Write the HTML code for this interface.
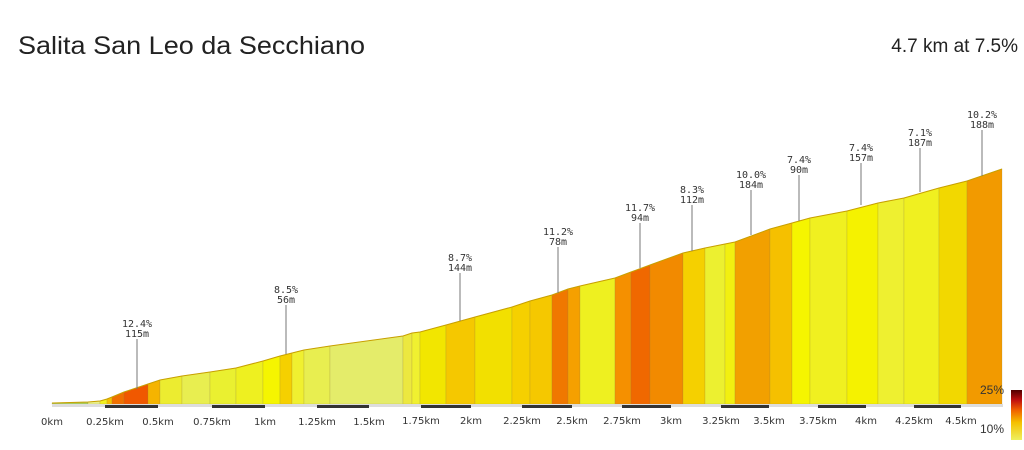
<!DOCTYPE html><html><head><style>body{margin:0;background:#fff;width:1024px;height:445px;overflow:hidden;font-family:"Liberation Sans",sans-serif}</style></head><body>
<svg width="1024" height="445" xmlns="http://www.w3.org/2000/svg">
<defs><linearGradient id="lg" x1="0" y1="1" x2="0" y2="0"><stop offset="0" stop-color="#eef060"/><stop offset="0.35" stop-color="#f5c000"/><stop offset="0.6" stop-color="#f06000"/><stop offset="0.8" stop-color="#c01010"/><stop offset="1" stop-color="#500000"/></linearGradient></defs>
<text x="18" y="54" font-size="25" fill="#222" textLength="347" lengthAdjust="spacingAndGlyphs">Salita San Leo da Secchiano</text>
<text x="1018" y="52" font-size="19" fill="#222" text-anchor="end">4.7 km at 7.5%</text>
<g stroke="rgba(150,130,60,0.35)" stroke-width="0.6">
<polygon fill="#a8d060" points="52,404 52,403 88,402 88,404"/>
<polygon fill="#e8f08a" points="88,404 88,402 100,401 100,404"/>
<polygon fill="#f2f020" points="100,404 100,401 107,399 107,404"/>
<polygon fill="#f5c000" points="107,404 107,399 112,397 112,404"/>
<polygon fill="#f07000" points="112,404 112,397 124,392 124,404"/>
<polygon fill="#f05800" points="124,404 124,392 148,384 148,404"/>
<polygon fill="#f5b400" points="148,404 148,384 160,380 160,404"/>
<polygon fill="#ecec30" points="160,404 160,380 182,376 182,404"/>
<polygon fill="#e8ee50" points="182,404 182,376 210,372 210,404"/>
<polygon fill="#eaf030" points="210,404 210,372 236,368 236,404"/>
<polygon fill="#eef020" points="236,404 236,368 263,361 263,404"/>
<polygon fill="#f5f500" points="263,404 263,361 280,356 280,404"/>
<polygon fill="#f5d000" points="280,404 280,356 292,353 292,404"/>
<polygon fill="#f0f030" points="292,404 292,353 304,350 304,404"/>
<polygon fill="#e8ee50" points="304,404 304,350 330,346 330,404"/>
<polygon fill="#e4ec6a" points="330,404 330,346 403,336 403,404"/>
<polygon fill="#ece840" points="403,404 403,336 412,333 412,404"/>
<polygon fill="#f0f030" points="412,404 412,333 420,332 420,404"/>
<polygon fill="#f2e600" points="420,404 420,332 446,325 446,404"/>
<polygon fill="#f5c800" points="446,404 446,325 475,317 475,404"/>
<polygon fill="#f2e000" points="475,404 475,317 512,307 512,404"/>
<polygon fill="#f5d000" points="512,404 512,307 530,301 530,404"/>
<polygon fill="#f5c800" points="530,404 530,301 552,295 552,404"/>
<polygon fill="#f07800" points="552,404 552,295 568,289 568,404"/>
<polygon fill="#f5a000" points="568,404 568,289 580,286 580,404"/>
<polygon fill="#eef020" points="580,404 580,286 615,278 615,404"/>
<polygon fill="#f59000" points="615,404 615,278 631,272 631,404"/>
<polygon fill="#f06800" points="631,404 631,272 650,265 650,404"/>
<polygon fill="#f28a00" points="650,404 650,265 683,253 683,404"/>
<polygon fill="#f5d000" points="683,404 683,253 705,248 705,404"/>
<polygon fill="#ecf030" points="705,404 705,248 725,244 725,404"/>
<polygon fill="#f2f010" points="725,404 725,244 735,242 735,404"/>
<polygon fill="#f2a000" points="735,404 735,242 770,229 770,404"/>
<polygon fill="#f5c000" points="770,404 770,229 792,223 792,404"/>
<polygon fill="#f5f500" points="792,404 792,223 810,218 810,404"/>
<polygon fill="#f0f020" points="810,404 810,218 847,211 847,404"/>
<polygon fill="#f5f200" points="847,404 847,211 878,203 878,404"/>
<polygon fill="#eef030" points="878,404 878,203 904,198 904,404"/>
<polygon fill="#f0f020" points="904,404 904,198 939,188 939,404"/>
<polygon fill="#f2d800" points="939,404 939,188 967,181 967,404"/>
<polygon fill="#f29a00" points="967,404 967,181 1002,169 1002,404"/>
</g>
<polyline fill="none" stroke="#c8a000" stroke-width="1" points="52,403 88,402 100,401 107,399 112,397 124,392 148,384 160,380 182,376 210,372 236,368 263,361 280,356 292,353 304,350 330,346 403,336 412,333 420,332 446,325 475,317 512,307 530,301 552,295 568,289 580,286 615,278 631,272 650,265 683,253 705,248 725,244 735,242 770,229 792,223 810,218 847,211 878,203 904,198 939,188 967,181 1002,169"/>
<rect x="52" y="404" width="951" height="3" fill="#ddd"/>
<g fill="#333"><rect x="105" y="405" width="53" height="3"/><rect x="212" y="405" width="53" height="3"/><rect x="317" y="405" width="52" height="3"/><rect x="421" y="405" width="50" height="3"/><rect x="522" y="405" width="50" height="3"/><rect x="622" y="405" width="49" height="3"/><rect x="721" y="405" width="48" height="3"/><rect x="818" y="405" width="48" height="3"/><rect x="914" y="405" width="47" height="3"/></g>
<g font-size="10" fill="#333" text-anchor="middle" font-family="DejaVu Sans, sans-serif"><text x="52" y="425">0km</text><text x="105" y="425">0.25km</text><text x="158" y="425">0.5km</text><text x="212" y="425">0.75km</text><text x="265" y="425">1km</text><text x="317" y="425">1.25km</text><text x="369" y="425">1.5km</text><text x="421" y="424">1.75km</text><text x="471" y="424">2km</text><text x="522" y="424">2.25km</text><text x="572" y="424">2.5km</text><text x="622" y="424">2.75km</text><text x="671" y="424">3km</text><text x="721" y="424">3.25km</text><text x="769" y="424">3.5km</text><text x="818" y="424">3.75km</text><text x="866" y="424">4km</text><text x="914" y="424">4.25km</text><text x="961" y="424">4.5km</text></g>
<g stroke="#777" stroke-width="1">
<line x1="137" x2="137" y1="389" y2="339"/><line x1="286" x2="286" y1="354" y2="305"/><line x1="460" x2="460" y1="321" y2="273"/><line x1="558" x2="558" y1="293" y2="247"/><line x1="640" x2="640" y1="268" y2="223"/><line x1="692" x2="692" y1="251" y2="205"/><line x1="751" x2="751" y1="235" y2="190"/><line x1="799" x2="799" y1="221" y2="175"/><line x1="861" x2="861" y1="205" y2="163"/><line x1="920" x2="920" y1="192" y2="148"/><line x1="982" x2="982" y1="176" y2="130"/>
</g>
<g font-size="10" fill="#333" text-anchor="middle" font-family="DejaVu Sans Mono, monospace">
<text x="137" y="327">12.4%</text><text x="137" y="337">115m</text>
<text x="286" y="293">8.5%</text><text x="286" y="303">56m</text>
<text x="460" y="261">8.7%</text><text x="460" y="271">144m</text>
<text x="558" y="235">11.2%</text><text x="558" y="245">78m</text>
<text x="640" y="211">11.7%</text><text x="640" y="221">94m</text>
<text x="692" y="193">8.3%</text><text x="692" y="203">112m</text>
<text x="751" y="178">10.0%</text><text x="751" y="188">184m</text>
<text x="799" y="163">7.4%</text><text x="799" y="173">90m</text>
<text x="861" y="151">7.4%</text><text x="861" y="161">157m</text>
<text x="920" y="136">7.1%</text><text x="920" y="146">187m</text>
<text x="982" y="118">10.2%</text><text x="982" y="128">188m</text>
</g>
<text x="1004" y="394" font-size="12" fill="#333" text-anchor="end">25%</text>
<text x="1004" y="433" font-size="12" fill="#333" text-anchor="end">10%</text>
<rect x="1011" y="390" width="11" height="50" fill="url(#lg)"/>
</svg></body></html>
